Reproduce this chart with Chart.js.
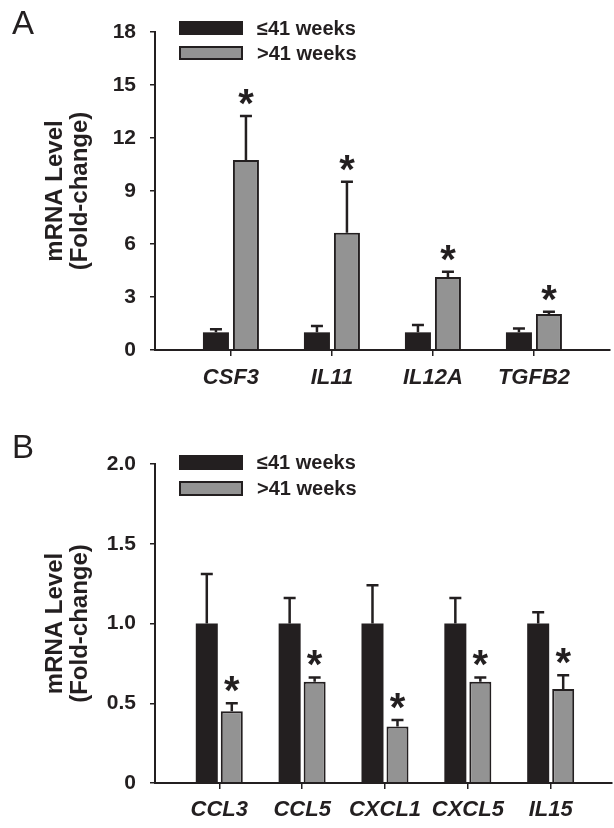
<!DOCTYPE html>
<html><head><meta charset="utf-8">
<script src="https://cdn.jsdelivr.net/npm/chart.js@4.4.1/dist/chart.umd.min.js"></script>
<style>
html,body{margin:0;padding:0;background:#fff;}
#wrap{position:relative;width:614px;height:828px;overflow:hidden;background:#fff;}
.panel{position:absolute;left:0;width:614px;height:414px;}
.letter{position:absolute;font-family:"Liberation Sans",Arial,sans-serif;font-size:33px;color:#231f20;line-height:1;}
</style></head>
<body><div id="wrap">
<div class="panel" style="top:0"><canvas id="cA" width="614" height="414"></canvas></div>
<div class="panel" style="top:414px"><canvas id="cB" width="614" height="414"></canvas></div>
<div class="letter" style="left:12px;top:6px">A</div>
<div class="letter" style="left:12px;top:430px">B</div>
</div>
<script>
// ---- data ----
const seriesNames = ['\u226441 weeks', '>41 weeks'];
const yTitle = ['mRNA Level', '(Fold-change)'];

const genesA = ['CSF3', 'IL11', 'IL12A', 'TGFB2'];
const meanA_le41 = [1.0, 1.0, 1.0, 1.0];
const semA_le41 = [0.18, 0.36, 0.42, 0.21];
const meanA_gt41 = [10.75, 6.64, 4.13, 2.04];
const semA_gt41 = [2.5, 2.88, 0.3, 0.13];
const sigA = [true, true, true, true];
const yTickValuesA = [0, 3, 6, 9, 12, 15, 18];
const yTickLabelsA = ['0', '3', '6', '9', '12', '15', '18'];

const genesB = ['CCL3', 'CCL5', 'CXCL1', 'CXCL5', 'IL15'];
const meanB_le41 = [1.0, 1.0, 1.0, 1.0, 1.0];
const semB_le41 = [0.31, 0.16, 0.24, 0.16, 0.07];
const meanB_gt41 = [0.45, 0.635, 0.355, 0.635, 0.59];
const semB_gt41 = [0.05, 0.027, 0.04, 0.027, 0.085];
const sigB = [true, true, true, true, true];
const yTickValuesB = [0, 0.5, 1.0, 1.5, 2.0];
const yTickLabelsB = ['0', '0.5', '1.0', '1.5', '2.0'];

// ---- styling ----
const FONT = "'Liberation Sans', Arial, sans-serif";
const INK = '#231f20';
const BLACK = '#231f20';
const GRAY = '#939393';
Chart.defaults.font.family = FONT;
Chart.defaults.color = INK;

const errorBarPlugin = {
  id: 'errorBars',
  afterDatasetsDraw(chart) {
    const ctx = chart.ctx, ys = chart.scales.y;
    const o = chart.options.plugins.errorBars;
    chart.data.datasets.forEach((ds, di) => {
      const meta = chart.getDatasetMeta(di);
      meta.data.forEach((el, i) => {
        const m = ds.means[i], s = ds.sems[i];
        const yTop = ys.getPixelForValue(m + s);
        const yBar = ys.getPixelForValue(m);
        ctx.save();
        ctx.strokeStyle = INK;
        ctx.lineWidth = o.lineWidth;
        ctx.beginPath();
        ctx.moveTo(el.x, yBar);
        ctx.lineTo(el.x, yTop);
        ctx.moveTo(el.x - o.cap / 2, yTop);
        ctx.lineTo(el.x + o.cap / 2, yTop);
        ctx.stroke();
        if (ds.sig && ds.sig[i]) {
          ctx.font = 'bold ' + o.starSize + 'px ' + FONT;
          ctx.fillStyle = INK;
          ctx.textAlign = 'center';
          ctx.textBaseline = 'alphabetic';
          const mt = ctx.measureText('*');
          const cy = yTop - o.starGap;
          ctx.fillText('*', el.x, cy + (mt.actualBoundingBoxAscent - mt.actualBoundingBoxDescent) / 2);
        }
        ctx.restore();
      });
    });
  }
};

const boxLegendPlugin = {
  id: 'boxLegend',
  afterDraw(chart) {
    const o = chart.options.plugins.boxLegend;
    const ctx = chart.ctx;
    chart.data.datasets.forEach((ds, i) => {
      const y = o.y[i];
      ctx.save();
      ctx.fillStyle = ds.backgroundColor;
      ctx.fillRect(o.x, y, o.w, o.h);
      ctx.strokeStyle = ds.borderColor;
      ctx.lineWidth = 2;
      ctx.strokeRect(o.x + 1, y + 1, o.w - 2, o.h - 2);
      ctx.fillStyle = INK;
      ctx.font = 'bold ' + o.fontSize + 'px ' + FONT;
      ctx.textAlign = 'left';
      ctx.textBaseline = 'middle';
      ctx.fillText(ds.label, o.textX, y + o.h / 2 + 1);
      ctx.restore();
    });
  }
};

function makeChart(id, genes, m1, s1, m2, s2, sig, yVals, yLabels, cfg) {
  const pts = arr => arr.map((v, i) => ({x: i, y: v}));
  return new Chart(document.getElementById(id), {
    type: 'bar',
    data: {
      datasets: [
        {label: seriesNames[0], data: pts(m1), means: m1, sems: s1,
         backgroundColor: BLACK, borderColor: BLACK, borderWidth: 0,
         categoryPercentage: cfg.catPct, barPercentage: cfg.barPct},
        {label: seriesNames[1], data: pts(m2), means: m2, sems: s2, sig: sig,
         backgroundColor: GRAY, borderColor: INK, borderWidth: {top: 2, left: 2, right: 2, bottom: 0},
         borderSkipped: false,
         categoryPercentage: cfg.catPct, barPercentage: cfg.barPct}
      ]
    },
    options: {
      responsive: false, animation: false, devicePixelRatio: 1,
      layout: {padding: {top: cfg.top, right: cfg.right, left: 0, bottom: 0}},
      plugins: {
        legend: {display: false}, tooltip: {enabled: false},
        errorBars: {lineWidth: 2.5, cap: 12, starSize: 40, starGap: 19},
        boxLegend: cfg.legend
      },
      scales: {
        x: {
          type: 'linear', min: cfg.xmin, max: cfg.xmax, offset: false, bounds: 'data',
          afterBuildTicks: s => { s.ticks = genes.map((g, i) => ({value: i})); },
          afterFit: s => { s.height = cfg.xh; },
          ticks: {callback: (v, i) => genes[i], padding: cfg.xpad, maxRotation: 0, autoSkip: false,
                  font: {size: 22, weight: 'bold', style: 'italic'}, color: INK},
          grid: {display: true, offset: false, drawOnChartArea: false, drawTicks: true, tickLength: 6, color: INK, lineWidth: 1.5},
          border: {display: true, color: INK, width: 2, z: 1}
        },
        y: {
          min: yVals[0], max: yVals[yVals.length - 1],
          afterBuildTicks: s => { s.ticks = yVals.map(v => ({value: v})); },
          afterFit: s => { s.width = 155; },
          ticks: {callback: (v, i) => yLabels[i], padding: 14, font: {size: 21, weight: 'bold'}, color: INK},
          grid: {display: true, drawOnChartArea: false, drawTicks: true, tickLength: 5, color: INK, lineWidth: 1.5},
          border: {display: true, color: INK, width: 2},
          title: {display: true, text: yTitle, color: INK, padding: {top: 42.5, bottom: 0},
                  font: {size: 24, weight: 'bold', lineHeight: 1.04}}
        }
      }
    },
    plugins: [errorBarPlugin, boxLegendPlugin]
  });
}

makeChart('cA', genesA, meanA_le41, semA_le41, meanA_gt41, semA_gt41, sigA, yTickValuesA, yTickLabelsA, {
  catPct: 0.594, barPct: 0.867, top: 32, right: 4, xmin: -0.752, xmax: 3.753, xh: 64, xpad: 9,
  legend: {x: 179, y: [21, 46], w: 64, h: 14, textX: 257, fontSize: 20}
});
makeChart('cB', genesB, meanB_le41, semB_le41, meanB_gt41, semB_gt41, sigB, yTickValuesB, yTickLabelsB, {
  catPct: 0.6035, barPct: 0.88, top: 50, right: 2, xmin: -0.776, xmax: 4.74, xh: 45, xpad: 8,
  legend: {x: 179, y: [41, 67], w: 64, h: 15, textX: 257, fontSize: 20}
});
</script>
</body></html>
